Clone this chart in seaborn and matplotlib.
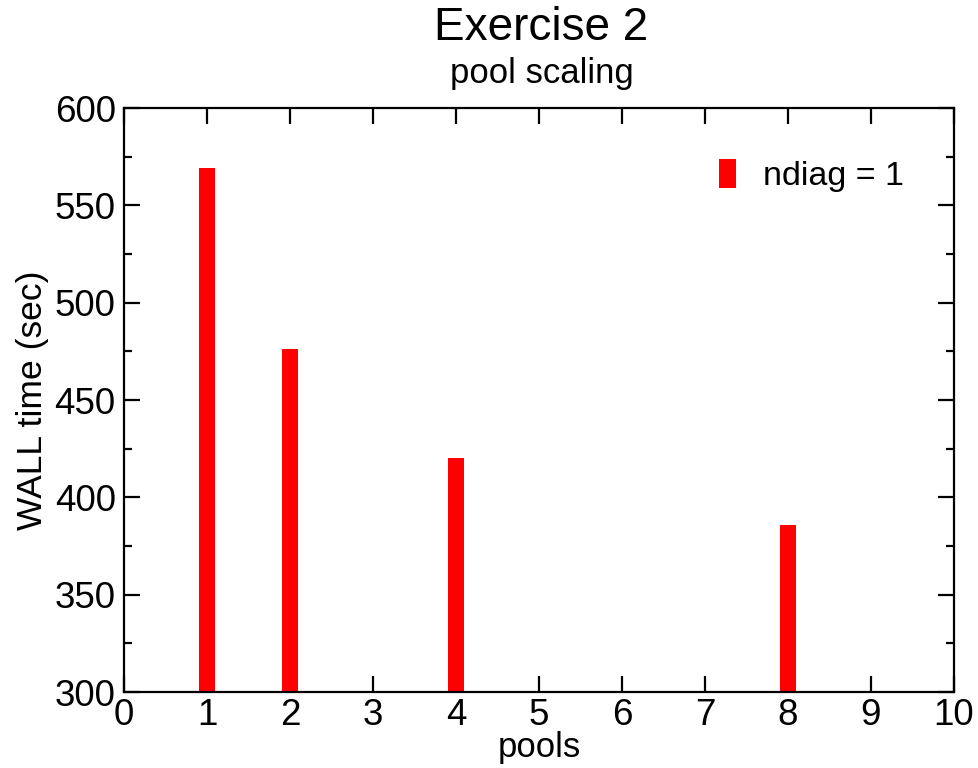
import matplotlib
matplotlib.use("Agg")
import matplotlib.pyplot as plt
import seaborn as sns
import pandas as pd
from matplotlib.ticker import MultipleLocator

pools = [1, 2, 4, 8]
wall_time = [569, 476, 420, 386]
series_label = "ndiag = 1"

sns.set_style("ticks")
plt.rcParams['font.family'] = ['Liberation Sans', 'DejaVu Sans']
plt.rcParams['text.color'] = 'black'
plt.rcParams['axes.labelcolor'] = 'black'

df = pd.DataFrame({"pools": pools, "wall": wall_time})

fig = plt.figure(figsize=(9.79, 7.68), dpi=100)
ax = fig.add_axes([124/979, 1-692/768, (954-124)/979, (692-108)/768])

sns.barplot(data=df, x="pools", y="wall", native_scale=True, width=0.2,
            color="#ff0000", saturation=1, linewidth=0, label=series_label, ax=ax)

ax.set_xlim(0, 10)
ax.set_ylim(300, 600)
ax.xaxis.set_major_locator(MultipleLocator(1))
ax.yaxis.set_major_locator(MultipleLocator(50))
ax.yaxis.set_minor_locator(MultipleLocator(25))
ax.tick_params(which="both", direction="in", top=True, right=True, width=1.6,
               colors="black", labelsize=26.5, pad=4)
ax.tick_params(axis="y", pad=6)
ax.tick_params(which="major", length=11.5)
ax.tick_params(which="minor", length=6)
for s in ax.spines.values():
    s.set_visible(True)
    s.set_linewidth(1.6)
    s.set_color("black")

ax.set_xlabel("pools", fontsize=25, labelpad=-1)
ax.set_ylabel("WALL time (sec)", fontsize=25.5, labelpad=4)

fig.text(0.553, 1-28/768, "Exercise 2", ha="center", va="center", fontsize=33)
fig.text(0.553, 1-74/768, "pool scaling", ha="center", va="center", fontsize=25)

ax.legend(loc="upper right", bbox_to_anchor=(0.976, 0.965), frameon=False, fontsize=24.5,
          handlelength=0.5, handleheight=0.95, handletextpad=0.78)

fig.savefig("out.png", dpi=100)
